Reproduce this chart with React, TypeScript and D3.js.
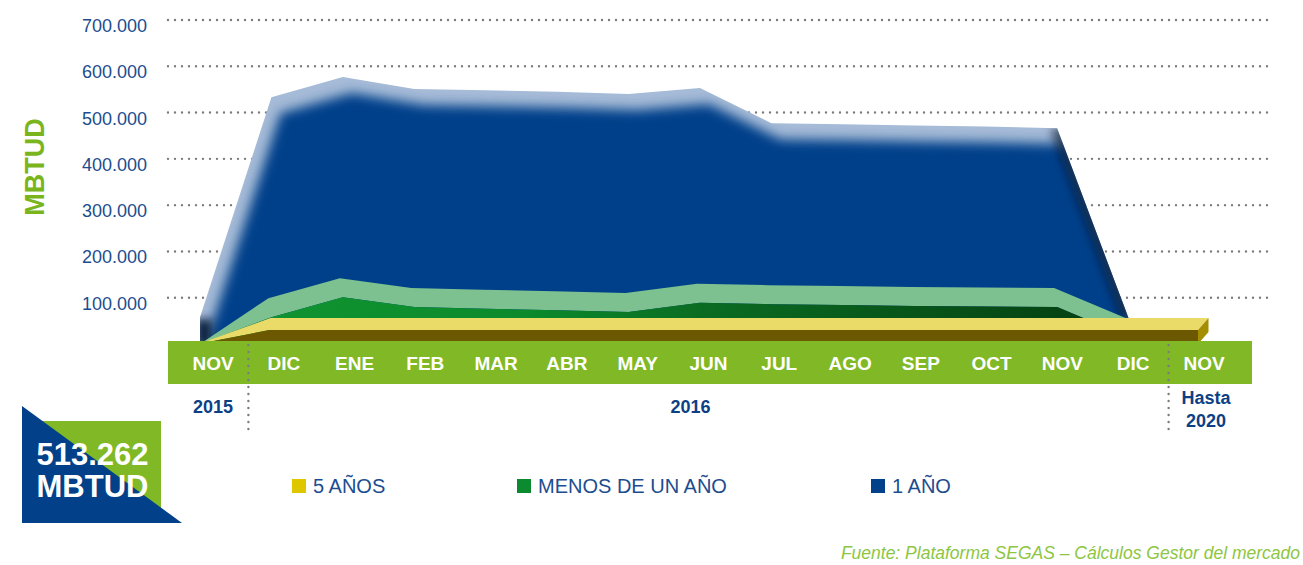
import React from "react";
import * as d3 from "d3";

// ---------- DATA ----------
const monthLabels = ["NOV", "DIC", "ENE", "FEB", "MAR", "ABR", "MAY", "JUN", "JUL", "AGO", "SEP", "OCT", "NOV", "DIC", "NOV"];
const yTicks = [100000, 200000, 300000, 400000, 500000, 600000, 700000];
// 1 AÑO (back row), NOV 2015 .. DIC 2016
const unAnio = [58000, 533000, 577000, 551000, 548000, 545000, 540000, 553000, 477000, 475000, 472000, 470000, 466000, 56000];
// MENOS DE UN AÑO (middle row), NOV 2015 .. DIC 2016
const menosDeUnAnio = [0, 58000, 101000, 80000, 76000, 73000, 69000, 89000, 86000, 84000, 82000, 81000, 80000, 15000];
// 5 AÑOS (front row), NOV 2015 .. NOV (hasta 2020)
const cincoAnios = [0, 30000, 30000, 30000, 30000, 30000, 30000, 30000, 30000, 30000, 30000, 30000, 30000, 30000, 30000];
const legendNames = ["5 AÑOS", "MENOS DE UN AÑO", "1 AÑO"];
const totalLabel = ["513.262", "MBTUD"];
const yearLabels = ["2015", "2016"];
const lastYearLabel = ["Hasta", "2020"];
const axisTitle = "MBTUD";
const sourceText = "Fuente: Plataforma SEGAS – Cálculos Gestor del mercado";

// ---------- STYLE ----------
const FF = "'Liberation Sans', Arial, Helvetica, sans-serif";
const BLUE = "#02418a";
const BAND = "#80b925";
const TEXT_BLUE = "#1c4d8f";

const W = 1303;
const H = 565;

export default function App() {
  const x = d3.scalePoint<number>().domain(d3.range(15)).range([203, 1203]);
  const xl = d3.scalePoint<number>().domain(d3.range(15)).range([213, 1204]);
  const y = d3.scaleLinear().domain([0, 700000]).range([344, 20]);
  const fmt = d3.formatLocale({ decimal: ",", thousands: ".", grouping: [3], currency: ["$", ""] }).format(",");

  // blue
  const BDX = -3;
  const blueArea = d3.area<number>().x((_, i) => (x(i) as number) + BDX).y0(y(0)).y1((d) => y(d));
  const bluePath = blueArea(unAnio) as string;
  const bEdgeA: [number, number] = [(x(12) as number) + BDX, y(unAnio[12])];
  const bEdgeB: [number, number] = [(x(13) as number) + BDX, y(unAnio[13])];
  const bLeftX = (x(0) as number) + BDX;

  // green
  const GDX = -3;
  const gFront: [number, number][] = menosDeUnAnio.map((v, i) => [(x(i) as number) + GDX, y(v)]);
  const gBack: [number, number][] = gFront.map(([px, py], i) => (i === 0 ? [px, py] : [px - 3, py - 19]));
  const line = d3.line();
  const gTop = (line(gFront.concat(gBack.slice().reverse())) as string) + "Z";
  const gFrontArea = d3.area<number>().x((_, i) => (x(i) as number) + GDX).y0(y(0)).y1((d) => y(d));
  const gFrontPath = gFrontArea(menosDeUnAnio) as string;

  // yellow
  const YDX = -5;
  const depthX = (px: number) => (px - 150) * 0.01;
  const yFront: [number, number][] = cincoAnios.map((v, i) => [(x(i) as number) + YDX, y(v)]);
  const yBack: [number, number][] = yFront.map(([px, py], i) => (i === 0 ? [px, py] : [px + depthX(px), py - 12]));
  const yTop = (line(yFront.concat(yBack.slice().reverse())) as string) + "Z";
  const yFrontArea = d3.area<number>().x((_, i) => (x(i) as number) + YDX).y0(y(0)).y1((d) => y(d));
  const yFrontPath = yFrontArea(cincoAnios) as string;
  const last = yFront.length - 1;
  const [lfx, lfy] = yFront[last];
  const [lbx, lby] = yBack[last];
  const ySide = (line([[lfx, lfy], [lbx, lby], [lbx, y(0) - 12], [lfx, y(0)]]) as string) + "Z";

  const div1 = ((xl(0) as number) + (xl(1) as number)) / 2;
  const div2 = ((xl(13) as number) + (xl(14) as number)) / 2;

  const legendItems = [
    { name: legendNames[0], color: "#dfc700", x: 292 },
    { name: legendNames[1], color: "#0b8a2f", x: 517 },
    { name: legendNames[2], color: BLUE, x: 871 },
  ];

  return (
    <svg width={W} height={H} style={{ position: "absolute", left: 0, top: 0, background: "#fff" }} fontFamily={FF}>
      <defs>
        <filter id="blur6" x="-20%" y="-20%" width="140%" height="140%">
          <feGaussianBlur stdDeviation="6" />
        </filter>
        <filter id="blur4" filterUnits="userSpaceOnUse" x="0" y="0" width={W} height={H}>
          <feGaussianBlur stdDeviation="4" />
        </filter>
        <clipPath id="blueClip">
          <path d={bluePath} />
        </clipPath>
        <linearGradient id="greenFront" gradientUnits="userSpaceOnUse" x1="270" y1="0" x2="1130" y2="0">
          <stop offset="0" stopColor="#109330" />
          <stop offset="0.3" stopColor="#0c8a2c" />
          <stop offset="0.5" stopColor="#0a6c22" />
          <stop offset="1" stopColor="#053d10" />
        </linearGradient>
      </defs>

      {/* grid */}
      {yTicks.map((t) => (
        <g key={t}>
          <line x1={168} x2={1268} y1={y(t)} y2={y(t)} stroke="#7c7c7c" strokeWidth={2.4} strokeDasharray="0 7" strokeLinecap="round" />
          <text x={147} y={y(t) + 12} textAnchor="end" fontSize={18} fill={TEXT_BLUE}>
            {fmt(t)}
          </text>
        </g>
      ))}

      {/* axis title */}
      <text transform={`translate(43.5,167) rotate(-90)`} textAnchor="middle" fontSize={27} fontWeight="bold" fill="#7ab51d">
        {axisTitle}
      </text>

      {/* blue series */}
      <path d={bluePath} fill="#a5bbd7" />
      <g clipPath="url(#blueClip)">
        <path d={bluePath} fill={BLUE} transform="translate(9,16)" filter="url(#blur6)" />
        <line x1={bEdgeA[0]} y1={bEdgeA[1]} x2={bEdgeB[0]} y2={bEdgeB[1]} stroke="#000a22" strokeWidth={14} opacity={0.6} filter="url(#blur4)" />
        <rect x={bLeftX - 4} y={y(unAnio[0]) + 2} width={16} height={y(0) - y(unAnio[0])} fill="#001236" opacity={0.9} filter="url(#blur4)" />
      </g>

      {/* green series */}
      <path d={gTop} fill="#7cc18f" />
      <path d={gFrontPath} fill="url(#greenFront)" />

      {/* yellow series */}
      <path d={yTop} fill="#eadb69" />
      <path d={yFrontPath} fill="#6c5800" />
      <path d={ySide} fill="#a58d00" />

      {/* month band */}
      <rect x={168} y={341} width={1252 - 168} height={43} fill={BAND} />
      {monthLabels.map((m, i) => (
        <text key={i} x={xl(i)} y={370} textAnchor="middle" fontSize={19} fontWeight="bold" fill="#fff">
          {m}
        </text>
      ))}
      {[div1, div2].map((dx, i) => (
        <line key={i} x1={dx} x2={dx} y1={345} y2={432} stroke="#7c7c7c" strokeWidth={2.4} strokeDasharray="0 7" strokeLinecap="round" />
      ))}

      {/* years */}
      <text x={xl(0)} y={413} textAnchor="middle" fontSize={18} fontWeight="bold" fill="#0d3f85">
        {yearLabels[0]}
      </text>
      <text x={(xl(7) as number) - 18} y={413} textAnchor="middle" fontSize={18} fontWeight="bold" fill="#0d3f85">
        {yearLabels[1]}
      </text>
      <text x={(xl(14) as number) + 2} y={404} textAnchor="middle" fontSize={18} fontWeight="bold" fill="#0d3f85">
        {lastYearLabel[0]}
      </text>
      <text x={(xl(14) as number) + 2} y={427} textAnchor="middle" fontSize={18} fontWeight="bold" fill="#0d3f85">
        {lastYearLabel[1]}
      </text>

      {/* total box */}
      <rect x={40} y={421} width={121} height={89} fill={BAND} />
      <polygon points="22,406 22,523 182,523" fill={BLUE} />
      <text x={92.5} y={465} textAnchor="middle" fontSize={31} fontWeight="bold" fill="#fff">
        {totalLabel[0]}
      </text>
      <text x={92.5} y={497} textAnchor="middle" fontSize={31} fontWeight="bold" fill="#fff">
        {totalLabel[1]}
      </text>

      {/* legend */}
      {legendItems.map((it) => (
        <g key={it.name}>
          <rect x={it.x} y={479} width={14} height={14} fill={it.color} />
          <text x={it.x + 21} y={493} fontSize={20} fill={TEXT_BLUE}>
            {it.name}
          </text>
        </g>
      ))}

      {/* source */}
      <text x={1300} y={559} textAnchor="end" fontSize={17.5} fontStyle="italic" fill="#8dc63f">
        {sourceText}
      </text>
    </svg>
  );
}
